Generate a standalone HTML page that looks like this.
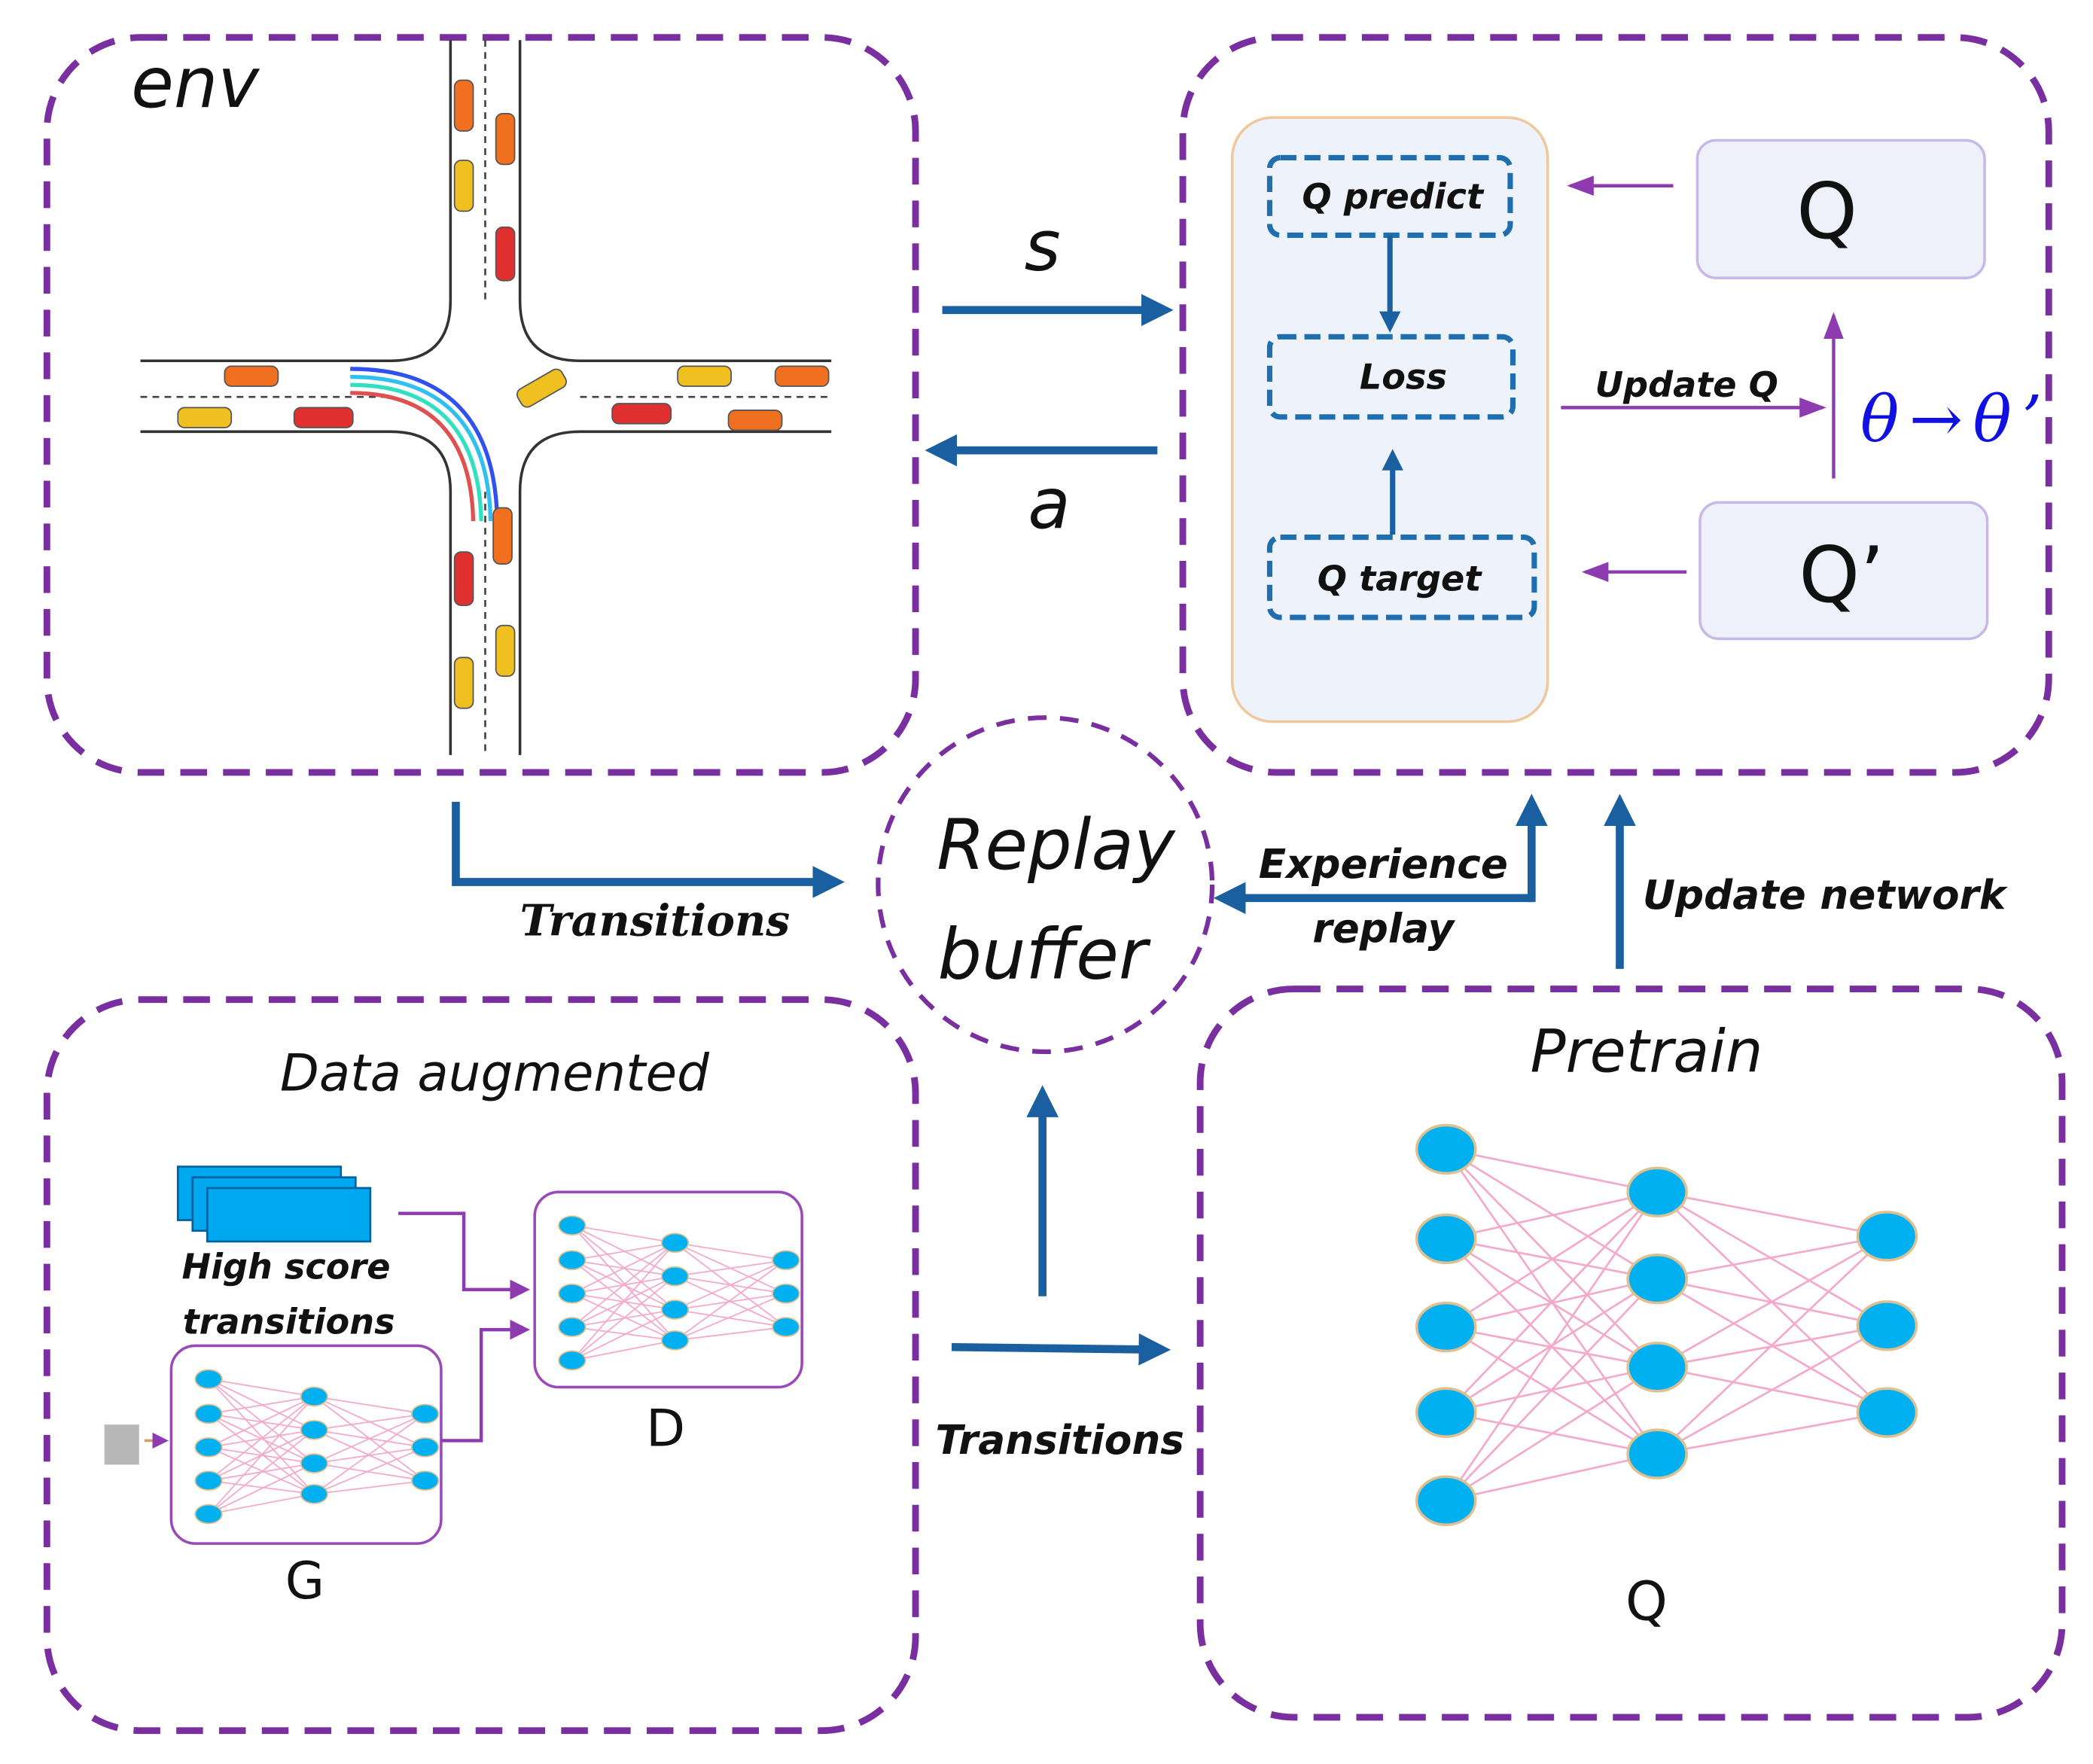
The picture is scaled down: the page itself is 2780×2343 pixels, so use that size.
<!DOCTYPE html>
<html><head><meta charset="utf-8"><style>html,body{margin:0;padding:0;background:#fff}svg{display:block}</style></head><body>
<svg width="2780" height="2343" viewBox="0 0 1566 1320" xmlns="http://www.w3.org/2000/svg">
<defs>
<marker id="ab" markerWidth="4" markerHeight="4" refX="3" refY="2" orient="auto" markerUnits="strokeWidth"><path d="M0,0 L4,2 L0,4 z" fill="#1a5fa0"/></marker>
<marker id="ap" markerWidth="8" markerHeight="8" refX="7" refY="4" orient="auto" markerUnits="strokeWidth"><path d="M0,1 L8,4 L0,7 z" fill="#8e3ab0"/></marker>
<marker id="ak" markerWidth="6" markerHeight="6" refX="5" refY="3" orient="auto" markerUnits="strokeWidth"><path d="M0,0 L6,3 L0,6 z" fill="#8e3ab0"/></marker>
</defs>
<g fill="none" stroke="#7a2fa0" stroke-width="5" stroke-dasharray="20 12">
<rect x="35" y="28" width="650" height="550" rx="70"/>
<rect x="885" y="28" width="648" height="550" rx="70"/>
<rect x="35" y="748" width="650" height="547" rx="70"/>
<rect x="898" y="740" width="645" height="545" rx="70"/>
<circle cx="782" cy="662" r="125" stroke-width="3.5" stroke-dasharray="14 10"/>
</g>
<g fill="none" stroke="#333" stroke-width="2">
<path d="M337,30 V225 Q337,270 292,270 H105"/>
<path d="M389,30 V225 Q389,270 434,270 H622"/>
<path d="M105,323 H292 Q337,323 337,368 V565"/>
<path d="M622,323 H434 Q389,323 389,368 V565"/>
</g>
<g stroke="#444" stroke-width="1.5" stroke-dasharray="5 4">
<line x1="363" y1="30" x2="363" y2="225"/><line x1="363" y1="368" x2="363" y2="565"/>
<line x1="105" y1="297" x2="292" y2="297"/><line x1="434" y1="297" x2="622" y2="297"/>
</g>
<g fill="none" stroke-width="3">
<path d="M262,276 Q370,276 372,390" stroke="#3050f0"/>
<path d="M262,282 Q365,282 367,390" stroke="#30c0f0"/>
<path d="M262,288 Q358,288 360,390" stroke="#30e0c0"/>
<path d="M262,294 Q352,294 354,390" stroke="#e05050"/>
</g>
<g stroke="#555" stroke-width="1">
<rect x="340" y="60" width="14" height="38" rx="5" fill="#f07020"/>
<rect x="371" y="85" width="14" height="38" rx="5" fill="#f07020"/>
<rect x="340" y="120" width="14" height="38" rx="5" fill="#f0c020"/>
<rect x="371" y="170" width="14" height="40" rx="5" fill="#e03030"/>
<rect x="168" y="274" width="40" height="15" rx="5" fill="#f07020"/>
<rect x="133" y="305" width="40" height="15" rx="5" fill="#f0c020"/>
<rect x="220" y="305" width="44" height="15" rx="5" fill="#e03030"/>
<rect x="507" y="274" width="40" height="15" rx="5" fill="#f0c020"/>
<rect x="580" y="274" width="40" height="15" rx="5" fill="#f07020"/>
<rect x="458" y="302" width="44" height="15" rx="5" fill="#e03030"/>
<rect x="545" y="307" width="40" height="15" rx="5" fill="#f07020"/>
<rect x="386" y="283" width="38" height="15" rx="5" fill="#f0c020" transform="rotate(-30 405 290)"/>
<rect x="369" y="380" width="14" height="42" rx="5" fill="#f07020"/>
<rect x="340" y="413" width="14" height="40" rx="5" fill="#e03030"/>
<rect x="371" y="468" width="14" height="38" rx="5" fill="#f0c020"/>
<rect x="340" y="492" width="14" height="38" rx="5" fill="#f0c020"/>
</g>
<text x="98" y="80" font-family="DejaVu Sans, sans-serif" font-style="italic" font-size="52" fill="#111">env</text>
<rect x="922" y="88" width="236" height="452" rx="30" fill="#eef2fb" stroke="#f0c89c" stroke-width="2"/>
<g fill="none" stroke="#1f6fb0" stroke-width="4" stroke-dasharray="12 6">
<rect x="950" y="118" width="180" height="58" rx="8"/>
<rect x="950" y="252" width="182" height="60" rx="8"/>
<rect x="950" y="402" width="198" height="60" rx="8"/>
</g>
<g font-family="DejaVu Sans, sans-serif" font-weight="bold" font-style="italic" font-size="26" fill="#111" text-anchor="middle">
<text x="1042" y="156">Q predict</text><text x="1050" y="291">Loss</text><text x="1047" y="442">Q  target</text>
<text x="1262" y="297">Update Q</text>
</g>
<line x1="1040" y1="176" x2="1040" y2="245" stroke="#1a5fa0" stroke-width="4" marker-end="url(#ab)"/>
<line x1="1042" y1="400" x2="1042" y2="340" stroke="#1a5fa0" stroke-width="4" marker-end="url(#ab)"/>
<rect x="1270" y="105" width="215" height="103" rx="14" fill="#eef0fa" stroke="#c8b8e8" stroke-width="2"/>
<rect x="1272" y="376" width="215" height="102" rx="14" fill="#eef0fa" stroke="#c8b8e8" stroke-width="2"/>
<g font-family="DejaVu Sans, sans-serif" font-size="58" fill="#111" text-anchor="middle">
<text x="1367" y="178">Q</text><text x="1378" y="450">Q’</text>
</g>
<g stroke="#8e3ab0" stroke-width="2.5" fill="none">
<line x1="1252" y1="139" x2="1175" y2="139" marker-end="url(#ap)"/>
<line x1="1262" y1="428" x2="1186" y2="428" marker-end="url(#ap)"/>
<line x1="1168" y1="305" x2="1364" y2="305" marker-end="url(#ap)"/>
<line x1="1372" y1="358" x2="1372" y2="236" marker-end="url(#ap)"/>
</g>
<text x="1392" y="330" font-family="DejaVu Serif, serif" font-style="italic" font-size="48" fill="#1010e0" textLength="136">θ→θ’</text>
<g stroke="#1a5fa0" stroke-width="6" fill="none" marker-end="url(#ab)">
<line x1="705" y1="232" x2="872" y2="232"/>
<line x1="866" y1="337" x2="698" y2="337"/>
<polyline points="341,600 341,660 626,660"/>
<polyline points="1146,672 914,672"/>
<line x1="1146" y1="675" x2="1146" y2="600"/>
<line x1="1212" y1="725" x2="1212" y2="600"/>
<line x1="780" y1="970" x2="780" y2="818"/>
<line x1="712" y1="1008" x2="870" y2="1010"/>
</g>
<g font-family="DejaVu Sans, sans-serif" font-style="italic" font-size="52" fill="#111" text-anchor="middle">
<text x="780" y="202">s</text><text x="785" y="395">a</text>
<text x="790" y="650">Replay</text><text x="780" y="732">buffer</text>
</g>
<g font-family="DejaVu Serif, serif" font-weight="bold" font-style="italic" font-size="32" fill="#111" text-anchor="middle">
<text x="490" y="700">Transitions</text>
</g>
<g font-family="DejaVu Sans, sans-serif" font-weight="bold" font-style="italic" font-size="30" fill="#111" text-anchor="middle">
<text x="1035" y="657">Experience</text><text x="1035" y="705">replay</text>
<text x="1365" y="680">Update network</text>
<text x="793" y="1088">Transitions</text>
<text x="214" y="957" font-size="26">High score</text><text x="216" y="998" font-size="26">transitions</text>
</g>
<g font-family="DejaVu Sans, sans-serif" font-style="italic" fill="#111" text-anchor="middle">
<text x="370" y="816" font-size="38">Data augmented</text><text x="1232" y="802" font-size="44">Pretrain</text>
<text x="1232" y="1212" font-style="normal" font-size="40">Q</text>
</g>
<g font-family="DejaVu Sans, sans-serif" font-size="38" fill="#111" text-anchor="middle">
<text x="498" y="1082">D</text><text x="228" y="1196">G</text>
</g>
<g stroke="#f4a8cc" stroke-width="1.5">
<path d="M1082,860L1240,892M1082,860L1240,957M1082,860L1240,1023M1082,860L1240,1088M1082,927L1240,892M1082,927L1240,957M1082,927L1240,1023M1082,927L1240,1088M1082,993L1240,892M1082,993L1240,957M1082,993L1240,1023M1082,993L1240,1088M1082,1057L1240,892M1082,1057L1240,957M1082,1057L1240,1023M1082,1057L1240,1088M1082,1123L1240,892M1082,1123L1240,957M1082,1123L1240,1023M1082,1123L1240,1088M1240,892L1412,925M1240,892L1412,992M1240,892L1412,1057M1240,957L1412,925M1240,957L1412,992M1240,957L1412,1057M1240,1023L1412,925M1240,1023L1412,992M1240,1023L1412,1057M1240,1088L1412,925M1240,1088L1412,992M1240,1088L1412,1057"/>
</g>
<g fill="#00b0f0" stroke="#e0c090" stroke-width="2">
<ellipse cx="1082" cy="860" rx="22" ry="18"/><ellipse cx="1082" cy="927" rx="22" ry="18"/><ellipse cx="1082" cy="993" rx="22" ry="18"/><ellipse cx="1082" cy="1057" rx="22" ry="18"/><ellipse cx="1082" cy="1123" rx="22" ry="18"/>
<ellipse cx="1240" cy="892" rx="22" ry="18"/><ellipse cx="1240" cy="957" rx="22" ry="18"/><ellipse cx="1240" cy="1023" rx="22" ry="18"/><ellipse cx="1240" cy="1088" rx="22" ry="18"/>
<ellipse cx="1412" cy="925" rx="22" ry="18"/><ellipse cx="1412" cy="992" rx="22" ry="18"/><ellipse cx="1412" cy="1057" rx="22" ry="18"/>
</g>
<rect x="400" y="892" width="200" height="146" rx="18" fill="none" stroke="#9a4ab8" stroke-width="2"/>
<g stroke="#f4a8cc" stroke-width="1">
<path d="M428,917L505,930M428,917L505,955M428,917L505,980M428,917L505,1003M428,943L505,930M428,943L505,955M428,943L505,980M428,943L505,1003M428,968L505,930M428,968L505,955M428,968L505,980M428,968L505,1003M428,993L505,930M428,993L505,955M428,993L505,980M428,993L505,1003M428,1018L505,930M428,1018L505,955M428,1018L505,980M428,1018L505,1003M505,930L588,943M505,930L588,968M505,930L588,993M505,955L588,943M505,955L588,968M505,955L588,993M505,980L588,943M505,980L588,968M505,980L588,993M505,1003L588,943M505,1003L588,968M505,1003L588,993"/>
</g>
<g fill="#00b0f0" stroke="#e0c090" stroke-width="1">
<ellipse cx="428" cy="917" rx="10" ry="7"/><ellipse cx="428" cy="943" rx="10" ry="7"/><ellipse cx="428" cy="968" rx="10" ry="7"/><ellipse cx="428" cy="993" rx="10" ry="7"/><ellipse cx="428" cy="1018" rx="10" ry="7"/>
<ellipse cx="505" cy="930" rx="10" ry="7"/><ellipse cx="505" cy="955" rx="10" ry="7"/><ellipse cx="505" cy="980" rx="10" ry="7"/><ellipse cx="505" cy="1003" rx="10" ry="7"/>
<ellipse cx="588" cy="943" rx="10" ry="7"/><ellipse cx="588" cy="968" rx="10" ry="7"/><ellipse cx="588" cy="993" rx="10" ry="7"/>
</g>
<rect x="128" y="1007" width="202" height="148" rx="18" fill="none" stroke="#9a4ab8" stroke-width="2"/>
<g stroke="#f4a8cc" stroke-width="1">
<path d="M156,1032L235,1045M156,1032L235,1070M156,1032L235,1095M156,1032L235,1118M156,1058L235,1045M156,1058L235,1070M156,1058L235,1095M156,1058L235,1118M156,1083L235,1045M156,1083L235,1070M156,1083L235,1095M156,1083L235,1118M156,1108L235,1045M156,1108L235,1070M156,1108L235,1095M156,1108L235,1118M156,1133L235,1045M156,1133L235,1070M156,1133L235,1095M156,1133L235,1118M235,1045L318,1058M235,1045L318,1083M235,1045L318,1108M235,1070L318,1058M235,1070L318,1083M235,1070L318,1108M235,1095L318,1058M235,1095L318,1083M235,1095L318,1108M235,1118L318,1058M235,1118L318,1083M235,1118L318,1108"/>
</g>
<g fill="#00b0f0" stroke="#e0c090" stroke-width="1">
<ellipse cx="156" cy="1032" rx="10" ry="7"/><ellipse cx="156" cy="1058" rx="10" ry="7"/><ellipse cx="156" cy="1083" rx="10" ry="7"/><ellipse cx="156" cy="1108" rx="10" ry="7"/><ellipse cx="156" cy="1133" rx="10" ry="7"/>
<ellipse cx="235" cy="1045" rx="10" ry="7"/><ellipse cx="235" cy="1070" rx="10" ry="7"/><ellipse cx="235" cy="1095" rx="10" ry="7"/><ellipse cx="235" cy="1118" rx="10" ry="7"/>
<ellipse cx="318" cy="1058" rx="10" ry="7"/><ellipse cx="318" cy="1083" rx="10" ry="7"/><ellipse cx="318" cy="1108" rx="10" ry="7"/>
</g>
<g fill="#00a8f0" stroke="#0060a0" stroke-width="1.5">
<rect x="133" y="873" width="122" height="40"/><rect x="144" y="881" width="122" height="40"/><rect x="155" y="889" width="122" height="40"/>
</g>
<rect x="78" y="1066" width="26" height="30" fill="#b8b8b8"/>
<line x1="108" y1="1078" x2="124" y2="1078" stroke="#d0a060" stroke-width="2" marker-end="url(#ak)"/>
<g stroke="#8e3ab0" stroke-width="2.5" fill="none">
<polyline points="298,908 347,908 347,965 394,965" marker-end="url(#ak)"/>
<polyline points="330,1078 360,1078 360,995 394,995" marker-end="url(#ak)"/>
</g>
</svg>
</body></html>
